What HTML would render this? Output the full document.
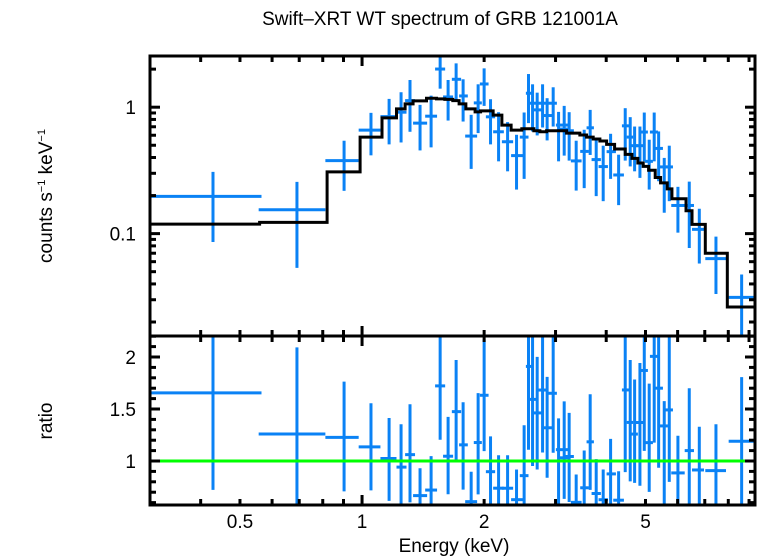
<!DOCTYPE html>
<html><head><meta charset="utf-8"><style>
html,body{margin:0;padding:0;background:#fff;}
svg{display:block;font-family:"Liberation Sans",sans-serif;}
</style></head><body>
<svg id="chart" width="758" height="556" viewBox="0 0 758 556" xmlns="http://www.w3.org/2000/svg">
<text x="440" y="25" font-size="19" text-anchor="middle">Swift–XRT WT spectrum of GRB 121001A</text>
<text transform="translate(52,196) rotate(-90)" font-size="19" text-anchor="middle">counts s<tspan font-size="11" dy="-7">−1</tspan><tspan dy="7"> keV</tspan><tspan font-size="11" dy="-7">−1</tspan></text>
<text transform="translate(52,421) rotate(-90)" font-size="19" text-anchor="middle">ratio</text>
<text x="454" y="552" font-size="19" text-anchor="middle">Energy (keV)</text>
<g id="g"></g>
</svg>
<script>
// model step edges (keV) and values (counts/s/keV)
const modelEdges=[0.300,0.559,0.820,0.989,1.120,1.216,1.277,1.336,1.442,1.526,1.600,1.674,1.735,1.803,1.900,1.960,2.105,2.212,2.331,2.477,2.652,2.745,2.851,3.194,3.444,3.578,3.715,3.859,4.009,4.195,4.456,4.629,4.788,4.935,5.088,5.283,5.447,5.656,5.809,6.293,6.511,7.021,7.956,9.31];
const modelValues=[0.119,0.1227,0.308,0.580,0.823,0.970,1.062,1.121,1.178,1.163,1.152,1.127,1.062,0.970,0.918,0.935,0.865,0.722,0.659,0.675,0.651,0.639,0.651,0.624,0.602,0.580,0.560,0.540,0.508,0.467,0.423,0.394,0.362,0.340,0.317,0.2776,0.252,0.226,0.1886,0.1518,0.1183,0.070,0.0263];
// data points: energy centre, low/high bin edges, counts, error low/high
const dataE=[0.429,0.691,0.903,1.052,1.166,1.248,1.313,1.390,1.480,1.558,1.630,1.706,1.775,1.858,1.933,2.000,2.074,2.171,2.285,2.404,2.510,2.573,2.633,2.703,2.787,2.860,2.960,3.052,3.151,3.241,3.373,3.530,3.652,3.779,3.932,4.101,4.292,4.456,4.584,4.700,4.844,4.965,5.106,5.253,5.387,5.561,5.722,6.010,6.410,6.786,7.459,8.63];
const dataElo=[0.300,0.556,0.812,0.981,1.110,1.216,1.277,1.336,1.431,1.514,1.584,1.665,1.735,1.796,1.886,1.952,2.020,2.105,2.212,2.331,2.449,2.535,2.564,2.637,2.713,2.776,2.872,3.006,3.075,3.146,3.273,3.451,3.578,3.681,3.830,4.009,4.163,4.373,4.492,4.603,4.725,4.844,4.985,5.127,5.276,5.428,5.584,5.787,6.246,6.511,7.021,8.017];
const dataEhi=[0.565,0.812,0.981,1.110,1.216,1.287,1.351,1.447,1.531,1.603,1.677,1.755,1.823,1.922,1.974,2.051,2.129,2.237,2.358,2.496,2.573,2.652,2.698,2.776,2.856,2.955,3.023,3.231,3.254,3.329,3.478,3.625,3.730,3.881,4.039,4.227,4.423,4.576,4.663,4.788,4.955,5.068,5.215,5.366,5.520,5.679,5.843,6.246,6.584,6.969,7.897,9.31];
const dataV=[0.197,0.1545,0.378,0.659,0.843,0.913,1.127,0.748,0.849,2.003,1.205,1.662,1.227,0.591,1.081,1.526,0.839,0.639,0.533,0.414,0.580,1.289,1.075,0.952,1.075,0.859,1.075,0.722,0.671,0.651,0.376,0.447,0.687,0.385,0.339,0.445,0.291,0.712,0.580,0.496,0.496,0.636,0.373,0.636,0.472,0.337,0.337,0.167,0.167,0.1081,0.0635,0.0313];
const dataLo=[0.0859,0.0536,0.218,0.416,0.508,0.526,0.639,0.455,0.481,1.401,0.784,1.141,0.770,0.325,0.624,1.024,0.508,0.373,0.311,0.223,0.271,0.748,0.643,0.598,0.691,0.546,0.703,0.373,0.414,0.378,0.219,0.229,0.419,0.198,0.1806,0.271,0.168,0.378,0.340,0.311,0.276,0.373,0.223,0.373,0.2596,0.1463,0.1806,0.1018,0.0770,0.0580,0.0333,0.012];
const dataHi=[0.308,0.2567,0.543,0.902,1.163,1.313,1.641,1.043,1.234,2.581,1.641,2.221,1.662,0.870,1.517,2.028,1.156,0.913,0.762,0.605,0.907,1.829,1.517,1.303,1.517,1.178,1.437,0.918,1.024,0.913,0.543,0.663,0.952,0.570,0.496,0.616,0.421,0.982,0.834,0.703,0.703,0.907,0.553,0.907,0.643,0.397,0.496,0.2345,0.258,0.1573,0.0947,0.0475];
const xTickLabels=["0.5","1","2","5"];
const yTopTickLabels=["0.1","1"];
const yBotTickLabels=["1","1.5","2"];

const NS="http://www.w3.org/2000/svg";
const g=document.getElementById('g');
const L=150,R=755,T=56,M=336,B=505;
const xmin=0.3,xmax=9.31,ytmin=0.0155,ytmax=2.54,rbmin=0.577,rbmax=2.202;
function X(e){return L+(Math.log10(e)-Math.log10(xmin))/(Math.log10(xmax)-Math.log10(xmin))*(R-L);}
function YT(v){return M-(Math.log10(v)-Math.log10(ytmin))/(Math.log10(ytmax)-Math.log10(ytmin))*(M-T);}
function YB(r){return B-(r-rbmin)/(rbmax-rbmin)*(B-M);}
function el(tag,attrs,parent){const e=document.createElementNS(NS,tag);for(const k in attrs)e.setAttribute(k,attrs[k]);(parent||g).appendChild(e);return e;}
function modelAt(e){for(let i=0;i<modelValues.length;i++){if(e>=modelEdges[i]&&e<modelEdges[i+1])return modelValues[i];}return modelValues[modelValues.length-1];}

const defs=el('defs',{});
const c1=el('clipPath',{id:'ct'},defs);el('rect',{x:L,y:T,width:R-L,height:M-T},c1);
const c2=el('clipPath',{id:'cb'},defs);el('rect',{x:L,y:M,width:R-L,height:B-M},c2);
const gt=el('g',{'clip-path':'url(#ct)'});


const gb=el('g',{'clip-path':'url(#cb)'});



const blue='#0a82f5';
for(let i=0;i<dataE.length;i++){
  const h=el('line',{x1:X(dataElo[i]),x2:X(dataEhi[i]),y1:YT(dataV[i]),y2:YT(dataV[i]),stroke:blue,'stroke-width':3},gt);
  
  
  const v=el('line',{x1:X(dataE[i]),x2:X(dataE[i]),y1:YT(dataLo[i]),y2:YT(dataHi[i]),stroke:blue,'stroke-width':3},gt);
  
  
}
let d='M'+X(modelEdges[0])+','+YT(modelValues[0]);
for(let i=0;i<modelValues.length;i++){d+=' L'+X(modelEdges[i])+','+YT(modelValues[i])+' L'+X(modelEdges[i+1])+','+YT(modelValues[i]);}
const mp=el('path',{d:d,fill:'none',stroke:'#000','stroke-width':3},gt);



for(let i=0;i<dataE.length;i++){
  const m=modelAt(dataE[i]);
  const h=el('line',{x1:X(dataElo[i]),x2:X(dataEhi[i]),y1:YB(dataV[i]/m),y2:YB(dataV[i]/m),stroke:blue,'stroke-width':3},gb);
  
  
  const v=el('line',{x1:X(dataE[i]),x2:X(dataE[i]),y1:YB(dataLo[i]/m),y2:YB(dataHi[i]/m),stroke:blue,'stroke-width':3},gb);
  
  
}
const gl=el('line',{x1:L,x2:R,y1:YB(1),y2:YB(1),stroke:'#00ff00','stroke-width':3},gb);



const f1=el('rect',{x:L,y:T,width:R-L,height:M-T,fill:'none',stroke:'#000','stroke-width':3});


const f2=el('rect',{x:L,y:M,width:R-L,height:B-M,fill:'none',stroke:'#000','stroke-width':3});



const xt=[0.3,0.4,0.5,0.6,0.7,0.8,0.9,1,2,3,4,5,6,7,8,9];
xt.forEach(e=>{const x=X(e);const len=(e===1)?10:6;
  [[T,T+len],[M,M-len],[M,M+len],[B,B-len]].forEach(p=>{
    const t=el('line',{x1:x,x2:x,y1:p[0],y2:p[1],stroke:'#000','stroke-width':3});
    
    
  });});
xTickLabels.forEach(s=>{const t=el('text',{x:X(parseFloat(s)),y:528,'font-size':19,'text-anchor':'middle'});t.textContent=s;
  
  });
const yt=[0.02,0.03,0.04,0.05,0.06,0.07,0.08,0.09,0.1,0.2,0.3,0.4,0.5,0.6,0.7,0.8,0.9,1,2];
yt.forEach(v=>{const y=YT(v);const len=(v===0.1||v===1)?10:6;
  [[L,L+len],[R,R-len]].forEach(p=>{
    const t=el('line',{x1:p[0],x2:p[1],y1:y,y2:y,stroke:'#000','stroke-width':3});
    
    
  });});
yTopTickLabels.forEach(s=>{const t=el('text',{x:136,y:YT(parseFloat(s))+7,'font-size':19,'text-anchor':'end'});t.textContent=s;
  
  });
for(let k=6;k<=22;k++){const r=k/10;const y=YB(r);const len=(k%5===0)?10:6;
  [[L,L+len],[R,R-len]].forEach(p=>{
    const t=el('line',{x1:p[0],x2:p[1],y1:y,y2:y,stroke:'#000','stroke-width':3});
    
    
  });}
yBotTickLabels.forEach(s=>{const t=el('text',{x:136,y:YB(parseFloat(s))+7,'font-size':19,'text-anchor':'end'});t.textContent=s;
  
  });
</script>
</body></html>
